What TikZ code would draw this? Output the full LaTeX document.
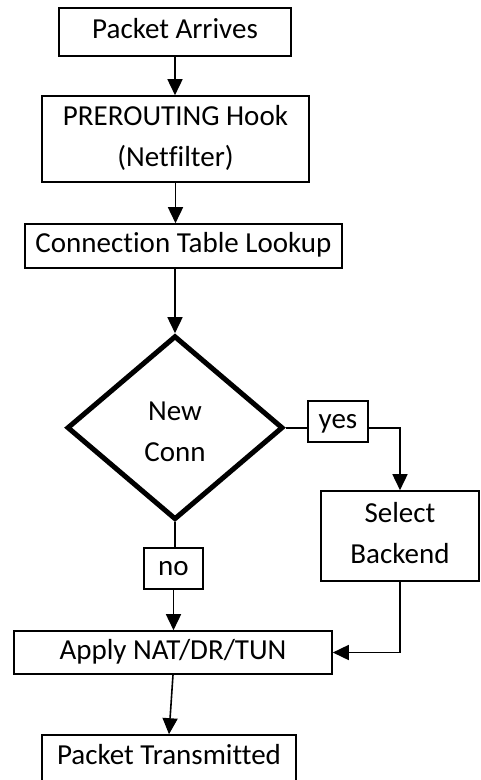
\documentclass[tikz,border=0pt]{standalone}
\usepackage{fontspec}
\setmainfont{Carlito}[Ligatures={NoCommon}]
\usetikzlibrary{shapes.geometric,arrows.meta}
\newcommand\mystrut{\rule[-7pt]{0pt}{27pt}}
\begin{document}
\begin{tikzpicture}[x=1pt,y=-1pt,
  txt/.style={inner sep=0pt,align=center,font=\fontsize{29}{41}\selectfont,
    execute at begin node=\mystrut,execute at end node=\mystrut},
  box/.style={txt,draw,line width=1.6pt},
  dia/.style={diamond,draw,line width=5pt,inner sep=0pt},
  line/.style={line width=1.6pt},
  arr/.style={line width=1.6pt,-{Triangle[width=15pt,length=16pt]}}]
\useasboundingbox (0,0) rectangle (480,780);
\clip (0,0) rectangle (480,780);
\node[box,minimum width=232,minimum height=48] (pa) at (175,32) {Packet Arrives};
\node[box,minimum width=267,minimum height=86] (pre) at (175.5,139) {PREROUTING Hook\\(Netfilter)};
\node[box,minimum width=317,minimum height=44] (ctl) at (183.5,246) {Connection Table Lookup};
\node[dia,minimum width=216,minimum height=184] (dia) at (175,427.7) {};
\node[txt] (dtxt) at (175,435) {New\\Conn};
\node[box,minimum width=60,minimum height=41] (yes) at (338,421.5) {yes};
\node[box,minimum width=158,minimum height=90] (sb) at (400,536) {Select\\Backend};
\node[box,minimum width=59,minimum height=41] (no) at (173.5,568.5) {no};
\node[box,minimum width=318,minimum height=43] (apply) at (173,652.5) {Apply NAT/DR/TUN};
\node[box,minimum width=254,minimum height=46] (pt) at (169,758) {Packet Transmitted};
\draw[arr] (pa.south) -- (pa.south |- pre.north);
\draw[arr] (pre.south) -- (pre.south |- ctl.north);
\draw[arr] (dia.north |- ctl.south) -- (dia.north);
\draw[line] (dia.east) -- (dia.east -| yes.west);
\draw[arr] (yes.east |- dia.east) -| (sb.north);
\draw[line] (dia.south) -- (dia.south |- no.north);
\draw[arr] (no.south) -- (no.south |- apply.north);
\draw[arr] (sb.south) |- (apply.east);
\draw[arr] (apply.south) -- (pt.north);
\end{tikzpicture}
\end{document}
